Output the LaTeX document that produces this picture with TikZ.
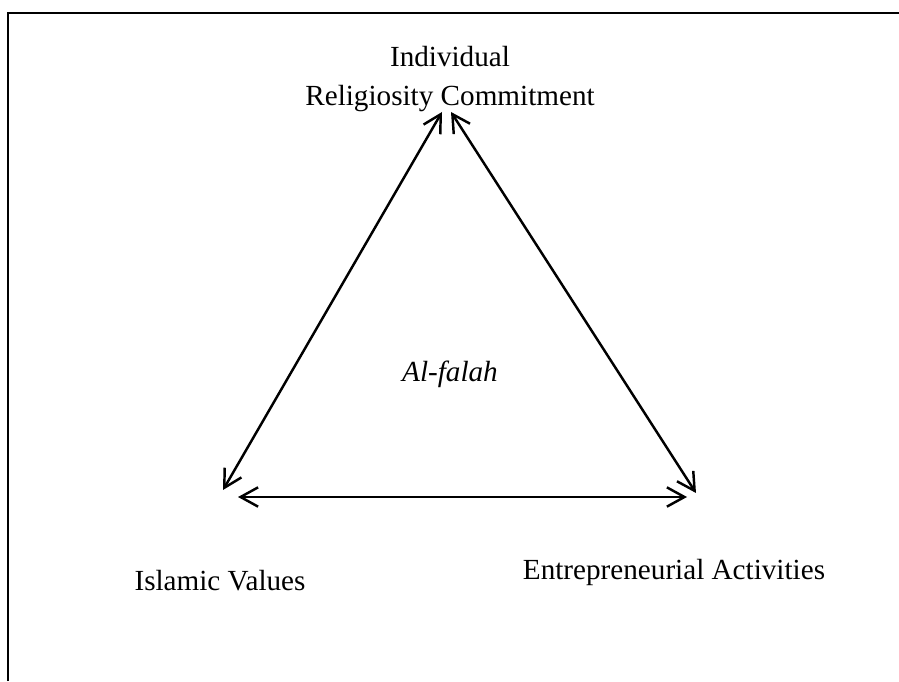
\documentclass[tikz,border=0pt]{standalone}
\usepackage{fontspec}
\setmainfont{Liberation Serif}
\usepackage{tikz}
\usetikzlibrary{arrows.meta}

\begin{document}
\begin{tikzpicture}[>={Straight Barb[length=10pt,width=11pt,line width=1.4pt]},
    every node/.style={font=\fontsize{16.6}{22}\selectfont},
    link/.style={<->,line width=1.4pt}]
    \useasboundingbox (0,0) rectangle (17.98,13.62);
    % the frame (top and left edges only)
    \coordinate (fl) at (0.16,0);
    \coordinate (fc) at (0.16,13.36);
    \coordinate (fr) at (17.98,13.36);
    \draw [line width=1.4pt] (fl) -- (fc) -- (fr);
    \node (irc) at (9.0,12.04) [align=center] {Individual\\Religiosity Commitment};
    \node (iv) at (4.4,2.0) {Islamic Values};
    \node (ea) at (13.48,2.18) {Entrepreneurial Activities};
    \node (af) at (9.0,6.14) {\textit{Al-falah}};
    % arrow ends
    \coordinate (t1) at (8.84,11.38);
    \coordinate (t2) at (9.02,11.38);
    \coordinate (l1) at (4.46,3.82);
    \coordinate (l2) at (4.76,3.68);
    \coordinate (r1) at (13.92,3.76);
    \coordinate (r2) at (13.74,3.68);
    \draw [link] (l1) -- (t1);
    \draw [link] (r1) -- (t2);
    \draw [link] (l2) -- (r2);
  \end{tikzpicture}
\end{document}
